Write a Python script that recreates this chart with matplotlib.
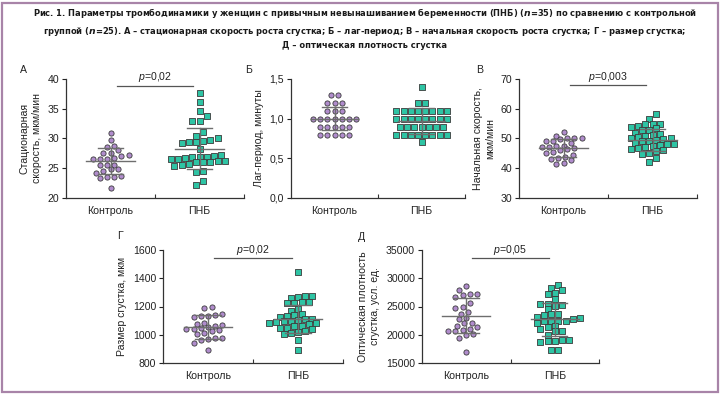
import numpy as np
import matplotlib
matplotlib.use('Agg')
import matplotlib.pyplot as plt
from matplotlib.patches import Rectangle

# шрифты
plt.rcParams['font.family'] = ['Liberation Sans', 'DejaVu Sans']
plt.rcParams['mathtext.fontset'] = 'custom'
plt.rcParams['mathtext.it'] = 'Liberation Sans:italic'
plt.rcParams['mathtext.rm'] = 'Liberation Sans'
plt.rcParams['mathtext.bfit'] = 'DejaVu Sans:italic:bold'

####################
# данные
####################

groups = ['Контроль', 'ПНБ']

a_ctrl = [30.9, 29.8, 28.8, 28.5, 28.0, 27.6, 27.5, 27.2, 27.1, 26.8, 26.6, 26.5, 26.5,
          25.6, 25.5, 25.5, 24.9, 24.8, 24.6, 24.2, 23.7, 23.6, 23.5, 23.3, 21.7]
a_pnb = [37.6, 36.1, 34.6, 33.7, 32.9, 32.9, 31.1, 30.5, 30.0, 29.8, 29.5, 29.4, 29.4,
         29.2, 28.2, 27.3, 27.0, 26.9, 26.9, 26.8, 26.9, 26.6, 26.6, 26.2, 26.1, 26.1,
         26.1, 26.2, 25.7, 25.6, 25.4, 24.5, 24.3, 22.8, 22.2]
a_mean = [26.2, 28.3]
a_sd = [2.2, 3.5]

b_ctrl = [1.3, 1.3, 1.2, 1.2, 1.2, 1.1, 1.1, 1.1, 1.0, 1.0, 1.0, 1.0, 1.0, 1.0, 1.0,
          0.9, 0.9, 0.9, 0.9, 0.9, 0.8, 0.8, 0.8, 0.8, 0.8]
b_pnb = [1.4, 1.2, 1.2] + [1.1] * 8 + [1.0] * 8 + [0.9] * 7 + [0.8] * 8 + [0.7]
b_mean = [1.0, 0.97]
b_sd = [0.145, 0.16]

v_ctrl = [52.3, 50.7, 50.3, 50.1, 50.0, 49.8, 49.3, 49.0, 48.5, 47.6, 47.4, 47.2, 47.0,
          46.8, 46.6, 46.3, 45.3, 45.2, 44.5, 43.8, 43.6, 43.0, 42.7, 41.6, 41.3]
v_pnb = [58.3, 56.7, 55.0, 55.0, 55.0, 54.3, 54.0, 53.6, 53.0, 52.8, 52.0, 51.6, 51.3,
         51.0, 50.5, 50.3, 50.0, 49.8, 49.5, 49.2, 49.0, 48.6, 48.2, 48.0, 47.8, 47.5,
         47.0, 46.8, 46.6, 46.3, 45.8, 45.2, 44.8, 43.5, 42.0]
v_mean = [46.9, 49.5]
v_sd = [3.0, 3.6]

g_ctrl = [1198, 1190, 1145, 1140, 1135, 1130, 1125, 1085, 1075, 1068, 1062, 1055, 1050,
          1042, 1038, 1035, 1028, 1010, 1002, 980, 975, 968, 962, 945, 895]
g_pnb = [1445, 1275, 1272, 1268, 1262, 1235, 1232, 1228, 1225, 1185, 1165, 1150, 1140,
         1130, 1125, 1115, 1110, 1105, 1100, 1095, 1090, 1085, 1080, 1075, 1065, 1060,
         1050, 1045, 1040, 1025, 1020, 1015, 1005, 965, 890]
g_mean = [1053, 1110]
g_sd = [84, 100]

d_ctrl = [28590, 27890, 27300, 27010, 27300, 26660, 25670, 24910, 24800, 24040, 23750,
          22750, 23050, 22000, 22000, 21590, 21350, 20830, 20950, 20600, 20600, 20130,
          19430, 20020, 16860]
d_pnb = [28880, 28000, 28300, 27250, 27420, 26250, 25500, 25090, 25200, 25500, 24500,
         23750, 23510, 23630, 22760, 22350, 22460, 22460, 22930, 22350, 22060, 21590,
         21300, 20950, 20600, 20720, 20020, 19090, 18850, 18670, 18960, 19090, 17330,
         17330, 23100]
d_mean = [23340, 22700]
d_sd = [3090, 3000]

p_text = ['0,02', None, '0,003', '0,02', '0,05']
p_level = [38.9, None, 67.9, 1541, 33540]

ylims = [(20, 40), (0, 1.5), (30, 70), (800, 1600), (15000, 35000)]
ysteps = [5, 0.5, 10, 200, 5000]
ylabels = ['Стационарная\nскорость, мкм/мин', 'Лаг-период, минуты',
           'Начальная скорость,\nмкм/мин', 'Размер сгустка, мкм',
           'Оптическая плотность\nсгустка, усл. ед.']
letters = ['А', 'Б', 'В', 'Г', 'Д']

title = ('Рис. 1. Параметры тромбодинамики у женщин с привычным невынашиванием '
         'беременности (ПНБ) ($\\mathbfit{n}$=35) по сравнению с контрольной\n'
         'группой ($\\mathbfit{n}$=25). А – стационарная скорость роста сгустка; '
         'Б – лаг-период; В – начальная скорость роста сгустка; Г – размер сгустка;\n'
         'Д – оптическая плотность сгустка')

####################
# оформление
####################

W, H = 720, 394
# позиции осей в пикселях: left, top, right, bottom
boxes = [(66, 79, 244, 198), (291, 79, 465, 198), (519, 79, 697, 198),
         (163, 250, 343, 363), (422, 250, 599, 363)]
letter_xy = [(23, 70), (249, 70), (480, 70), (120, 236), (362, 237)]

c_fill = ['#b08ccc', '#2ec4a4']
c_edge = '#3a3a3a'
line_c = '#6e6e6e'


def scatter_rows(ax, yvals, center, step=7.2, bin_h=5.0, d=5.6):
    # точки группируются в строки по y (как в Prism), строки сдвигаются, чтобы не налезать
    tr = ax.transData
    yp = np.array([tr.transform((center, v))[1] for v in yvals])
    cx = tr.transform((center, 0))[0]
    order = np.argsort(yp, kind='stable')
    rows = []
    for i in order:
        if rows and yp[i] - yp[rows[-1][0]] < bin_h:
            rows[-1].append(i)
        else:
            rows.append([i])
    placed = []
    xs = np.zeros(len(yvals))
    for row in rows:
        n = len(row)
        base = (np.arange(n) - (n - 1) / 2) * step
        best, best_score = 0.0, -1
        for sh in [0.0, step / 2, -step / 2, step / 4, -step / 4, step, -step]:
            score = 1e9
            for bx, i in zip(base, row):
                for (px, py) in placed:
                    dist = np.hypot(px - bx - sh, py - yp[i])
                    score = min(score, dist)
            if score >= d:
                best = sh
                break
            if score > best_score:
                best, best_score = sh, score
        for bx, i in zip(base, row):
            placed.append((bx + best, yp[i]))
            xs[i] = tr.inverted().transform((cx + bx + best, yp[i]))[0]
    return xs


fig = plt.figure(figsize=(W / 100, H / 100), dpi=100)

fig.patches.append(Rectangle((1.5 / W, 2.5 / H), (W - 4) / W, (H - 5) / H,
                             transform=fig.transFigure, fill=False,
                             edgecolor='#a884a8', linewidth=1.6))

ttl = fig.text(365 / W, 1 - 28 / H, title, ha='center', va='center', fontsize=7.6,
               family=['DejaVu Sans'], fontstretch='condensed', fontweight='bold',
               linespacing=1.55, color='#1a1a1a')
# подгоняем ширину заголовка под ~658 px
fig.canvas.draw()
wpx = ttl.get_window_extent().width
ttl.set_fontsize(7.6 * 658 / wpx)

data = [(a_ctrl, a_pnb, a_mean, a_sd), (b_ctrl, b_pnb, b_mean, b_sd),
        (v_ctrl, v_pnb, v_mean, v_sd), (g_ctrl, g_pnb, g_mean, g_sd),
        (d_ctrl, d_pnb, d_mean, d_sd)]

for k in range(5):
    l, t, r, b = boxes[k]
    ax = fig.add_axes([l / W, 1 - b / H, (r - l) / W, (b - t) / H])
    ax.set_xlim(0.5, 2.5)
    ax.set_ylim(*ylims[k])
    lo, hi = ylims[k]
    ticks = np.arange(lo, hi + ysteps[k] / 2, ysteps[k])
    ax.set_yticks(ticks)
    if k == 1:
        ax.set_yticklabels([('%.1f' % v).replace('.', ',') for v in ticks])
    else:
        ax.set_yticklabels(['%d' % v for v in ticks])
    ax.set_xticks([1, 2])
    ax.set_xticklabels(groups)
    ax.set_xticks([1.5, 2.5], minor=True)
    ax.tick_params(axis='x', which='major', length=0, pad=6, labelsize=7.6, colors='#222')
    ax.tick_params(axis='x', which='minor', direction='in', length=3, width=0.8, color='#333')
    ax.tick_params(axis='y', length=3, width=0.8, labelsize=7.6, pad=2, colors='#222')
    for s in ['top', 'right']:
        ax.spines[s].set_visible(False)
    for s in ['left', 'bottom']:
        ax.spines[s].set_linewidth(0.9)
        ax.spines[s].set_color('#333')
    ax.patch.set_alpha(0)
    ax.set_ylabel(ylabels[k], fontsize=7.6, labelpad=4, linespacing=1.25, color='#222')

    ctrl, pnb, mean, sd = data[k]
    for j, vals in enumerate([ctrl, pnb]):
        pos = j + 1
        xs = scatter_rows(ax, vals, pos)
        ax.scatter(xs, vals, s=14 if j == 0 else 15, marker='o' if j == 0 else 's',
                   facecolor=c_fill[j], edgecolor=c_edge, linewidth=0.6, zorder=2,
                   clip_on=False)
        m, s_ = mean[j], sd[j]
        ax.plot([pos - 0.27, pos + 0.27], [m, m], color=line_c, lw=1.0, zorder=3)
        ax.plot([pos - 0.14, pos + 0.14], [m + s_, m + s_], color=line_c, lw=1.0, zorder=3)
        ax.plot([pos - 0.14, pos + 0.14], [m - s_, m - s_], color=line_c, lw=1.0, zorder=3)
        ax.plot([pos, pos], [m - s_, m + s_], color=line_c, lw=1.0, zorder=3)

    if p_text[k] is not None:
        ax.plot([1.07, 1.93], [p_level[k], p_level[k]], color='#555', lw=0.9,
                clip_on=False)
        ax.annotate('$p$=' + p_text[k], (1.5, p_level[k]), xytext=(0, 1),
                    textcoords='offset points', ha='center', va='bottom',
                    fontsize=7.6, color='#222', annotation_clip=False)

    fig.text(letter_xy[k][0] / W, 1 - letter_xy[k][1] / H, letters[k],
             ha='center', va='center', fontsize=7.6, color='#222')

fig.savefig('out.png', dpi=100)
plt.close()
